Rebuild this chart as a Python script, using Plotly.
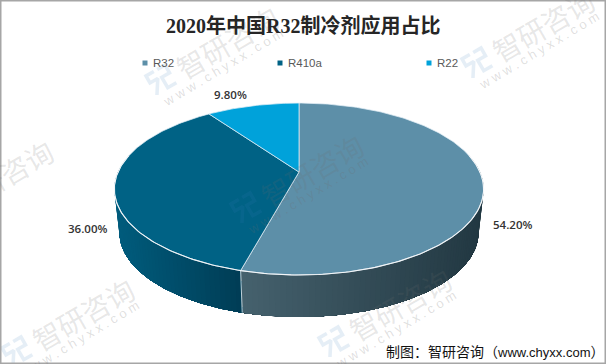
import math
import plotly.graph_objects as go

# ---- data ----
categories = ["R32", "R410a", "R22"]
shares = [54.20, 36.00, 9.80]
share_labels = ["54.20%", "36.00%", "9.80%"]
title_text = "2020年中国R32制冷剂应用占比"
source_text = "制图：智研咨询（<span style=\"font-size:13px\">www.chyxx.com</span>）"

# ---- style ----
top_colors = ["#5D8FA8", "#006285", "#00A2DA"]
side_left = {0: (70, 98, 110), 1: (0, 92, 125)}
side_right = {0: (34, 56, 66), 1: (0, 60, 84)}
W, H = 606, 364
CX, CY = 299, 172
A, B, K = 181, 82.6, 0.198
CY2, A2, B2 = 216, 176, 81
label_xy = [(512, 224), (87, 228), (230, 94)]
legend_x = [145, 280, 429]
LEGEND_Y = 63
wm_anchors = [(161, 80), (477, 63), (246, 208), (-64, 214), (17, 352), (334, 342)]


def rim(theta_deg, cy=CY, a=A, b=B):
    t = math.radians(theta_deg)
    d = 1 + K * math.cos(t)
    return CX + a * math.sin(t) / d, cy - b * math.cos(t) / d


def arc(t0, t1, step=1.0, **kw):
    n = max(2, int(abs(t1 - t0) / step) + 1)
    return [rim(t0 + (t1 - t0) * i / (n - 1), **kw) for i in range(n)]


# slice boundaries, clockwise from the top
total = sum(shares)
bounds = [0.0]
for v in shares:
    bounds.append(bounds[-1] + 360.0 * v / total)

fig = go.Figure()
skip = dict(mode="lines", hoverinfo="skip", showlegend=False)

# outer wall with a horizontal gradient: painter's algorithm, each polygon
# spans from its start to the end of the wall so no seams can appear.
VIS0, VIS1 = 78.0, 282.0
walls = [(max(bounds[0], VIS0), min(bounds[1], VIS1), 0, False),
         (max(bounds[1], VIS0), min(bounds[2], VIS1), 1, True)]
for t0, t1, i, reverse in walls:
    xs_span = [p[0] for p in arc(t0, t1)]
    xmin, xmax = min(xs_span), max(xs_span)
    n = int((t1 - t0) / 1.5) + 1
    for j in range(n):
        if reverse:   # from the far left end towards the seam
            a0, a1 = t1 - (t1 - t0) * j / n, t0
        else:         # from the right end towards the seam
            a0, a1 = t0 + (t1 - t0) * j / n, t1
        up = arc(a0, a1, step=0.5)
        dn = arc(a1, a0, step=0.5, cy=CY2, a=A2, b=B2)
        pts = up + dn + [up[0]]
        f = (up[0][0] - xmin) / (xmax - xmin)
        c = tuple(round(side_left[i][k] + (side_right[i][k] - side_left[i][k]) * f) for k in range(3))
        fig.add_trace(go.Scatter(x=[p[0] for p in pts], y=[p[1] for p in pts], fill="toself",
                                 fillcolor="rgb(%d,%d,%d)" % c, line=dict(width=0), **skip))

# seam between the two visible walls
p_up, p_dn = rim(bounds[1]), rim(bounds[1], cy=CY2, a=A2, b=B2)
fig.add_trace(go.Scatter(x=[p_up[0], p_dn[0]], y=[p_up[1], p_dn[1]],
                         line=dict(color="rgba(225,235,240,0.85)", width=1), **skip))

# top faces
for i, name in enumerate(categories):
    pts = [(CX, CY)] + arc(bounds[i], bounds[i + 1]) + [(CX, CY)]
    fig.add_trace(go.Scatter(x=[p[0] for p in pts], y=[p[1] for p in pts], fill="toself",
                             fillcolor=top_colors[i], name=name, hoverinfo="name", mode="lines",
                             line=dict(color="rgba(225,238,245,0.75)", width=1), showlegend=False))

# bright front rim
front = arc(VIS0, VIS1)
fig.add_trace(go.Scatter(x=[p[0] for p in front], y=[p[1] for p in front],
                         line=dict(color="rgba(245,248,250,0.95)", width=1.1), **skip))

# manual legend markers
fig.add_trace(go.Scatter(x=legend_x, y=[LEGEND_Y] * 3, mode="markers", hoverinfo="skip", showlegend=False,
                         marker=dict(symbol="square", size=5, color=top_colors)))

# watermark logos
logo_strokes = [[(-2, -11), (-11, -11), (-11, -3), (-2, -3), (-11, 11)],
                [(2, -11), (11, -11), (11, -2), (2, -2), (2, 10), (12, 10)]]
ca, sa = math.cos(math.radians(-30)), math.sin(math.radians(-30))
for ax0, ay0 in wm_anchors:
    for s in logo_strokes:
        fig.add_trace(go.Scatter(x=[ax0 + u * ca - v * sa for u, v in s],
                                 y=[ay0 + u * sa + v * ca for u, v in s],
                                 opacity=0.13, line=dict(color="#3C7FBE", width=3.5), **skip))

ann = []
CJK = "Noto Sans CJK SC"
for ax0, ay0 in wm_anchors:
    ann.append(dict(x=ax0 + 66, y=ay0 - 38, text="智研咨询", textangle=-30, showarrow=False,
                    font=dict(family=CJK, size=28, color="rgba(110,110,110,0.17)")))
    ann.append(dict(x=ax0 + 62, y=ay0 - 13, text="w w w . c h y x x . c o m", textangle=-31, showarrow=False,
                    font=dict(family="Liberation Sans", size=13, color="rgba(110,110,110,0.22)")))

for (x, y), t in zip(label_xy, share_labels):
    ann.append(dict(x=x, y=y, text=t, showarrow=False,
                    font=dict(family="Open Sans", size=11.5, color="#333333", weight=600)))
for x, t in zip(legend_x, categories):
    ann.append(dict(x=x + 6, y=LEGEND_Y, text=t, showarrow=False, xanchor="left",
                    font=dict(family="Liberation Sans", size=11.5, color="#595959")))
ann.append(dict(x=303, y=25, text=title_text, showarrow=False,
                font=dict(family="Liberation Serif, " + CJK, size=20, color="#262626", weight="bold")))
ann.append(dict(x=606, y=352, text=source_text, showarrow=False, xanchor="right",
                font=dict(family="Liberation Sans, " + CJK, size=14, color="#111111")))
for a_ in ann:
    a_.update(xref="x", yref="y")

fig.update_layout(
    width=W, height=H, autosize=False, margin=dict(l=0, r=0, t=0, b=0),
    paper_bgcolor="white", plot_bgcolor="white", showlegend=False, annotations=ann,
    xaxis=dict(range=[0, W], visible=False, fixedrange=True),
    yaxis=dict(range=[H, 0], visible=False, fixedrange=True),
    shapes=[dict(type="rect", xref="x", yref="y", x0=0.5, y0=0.5, x1=W - 0.5, y1=H - 0.5,
                 line=dict(color="#A6A6A6", width=2), layer="above")],
)
fig.write_html("out.html", config={"displayModeBar": False},
               post_script="document.body.style.margin='0';")
